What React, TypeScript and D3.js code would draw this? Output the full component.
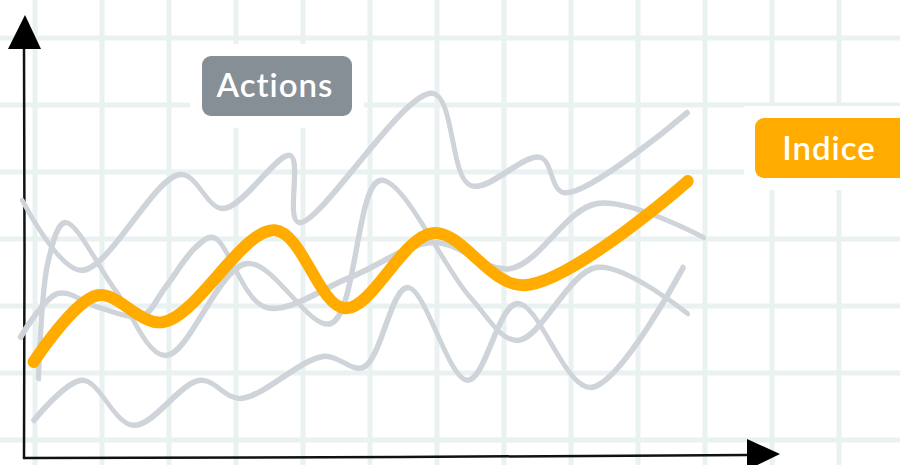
import React from "react";
import * as d3 from "d3";

// Data values (x: time 0..100, y: value 0..100)
const topSeries: [number, number][] = [
  [0.3, 61.4], [8.6, 44.8], [22.9, 67.6], [28.9, 59.5], [38.6, 72.1], [39.7, 56.2],
  [59.0, 86.9], [64.3, 65.0], [74.3, 71.7], [77.6, 63.3], [95.3, 82.4],
];
const secondSeries: [number, number][] = [
  [2.6, 19.0], [4.0, 47.1], [6.4, 56.2], [13.6, 40.0], [20.7, 24.5], [32.4, 46.4],
  [44.3, 32.1], [51.4, 66.2], [64.3, 38.3], [71.0, 28.1], [82.4, 45.5], [95.3, 34.5],
];
const thirdSeries: [number, number][] = [
  [0, 28.8], [5.4, 39.3], [11.1, 36.0], [17.4, 34.0], [20.7, 40.7], [25.0, 50.2],
  [27.6, 52.6], [35.0, 36.0], [47.1, 43.1], [59.0, 51.4], [70.0, 45.2], [82.4, 60.7], [97.6, 52.6],
];
const bottomSeries: [number, number][] = [
  [1.9, 9.0], [8.9, 18.6], [16.1, 7.9], [25.7, 18.6], [31.4, 14.3], [43.3, 24.3],
  [49.0, 21.7], [55.3, 40.7], [63.9, 18.6], [71.0, 36.9], [81.4, 16.9], [94.7, 45.5],
];
const indexSeries: [number, number][] = [
  [1.9, 22.9], [11.0, 38.8], [20.4, 32.4], [36.4, 54.3], [46.4, 35.7], [59.0, 53.6],
  [71.9, 41.2], [95.4, 66.0],
];
const stockSeries = [topSeries, secondSeries, thirdSeries, bottomSeries];
const labelStocks = "Actions";
const labelIndex = "Indice";

const W = 900;
const H = 465;
const GRID = 67;
const GRID_X0 = 35;
const GRID_Y0 = 38;
const GRAY = "#ced4da";
const ORANGE = "#ffab00";
const GRID_COLOR = "#eaf2f1";

export default function App() {
  const x = d3.scaleLinear().domain([0, 100]).range([20, 720]);
  const y = d3.scaleLinear().domain([0, 100]).range([458, 38]);
  const line = d3
    .line<[number, number]>()
    .x((d) => x(d[0]))
    .y((d) => y(d[1]))
    .curve(d3.curveCatmullRom.alpha(0.5));

  const vLines = d3.range(GRID_X0, W, GRID);
  const hLines = d3.range(GRID_Y0, H, GRID);

  return (
    <div style={{ position: "absolute", left: 0, top: 0, width: W, height: H, background: "#fff" }}>
      <svg width={W} height={H} style={{ display: "block" }}>
        <rect width={W} height={H} fill="#fff" />
        <g stroke={GRID_COLOR} strokeWidth={5}>
          {vLines.map((vx) => (
            <line key={"v" + vx} x1={vx} x2={vx} y1={0} y2={H} />
          ))}
          {hLines.map((hy) => (
            <line key={"h" + hy} x1={0} x2={W} y1={hy} y2={hy} />
          ))}
        </g>
        {/* white padding behind labels */}
        <rect x={190} y={44} width={174} height={84} fill="#fff" />
        <rect x={744} y={106} width={170} height={84} fill="#fff" />

        {/* axes */}
        <g stroke="#111" strokeWidth={2.5} fill="none" strokeLinecap="round">
          <path d="M24,46 L24.5,250 L24,458" />
          <path d="M24,458 L400,457 L748,455" />
        </g>
        <path d="M25,15 L8,49 L41,49 Z" fill="#000" />
        <path d="M780,454 L747,439 L747,470 Z" fill="#000" />

        {/* stock lines */}
        <g fill="none" stroke={GRAY} strokeLinecap="round" strokeLinejoin="round">
          {stockSeries.map((s, i) => (
            <g key={i}>
              <path d={line(s) || ""} strokeWidth={4.6} />
              <path d={line(s) || ""} strokeWidth={4} transform="translate(0.9,1.2)" />
            </g>
          ))}
        </g>
        {/* index line */}
        <g fill="none" stroke={ORANGE} strokeLinecap="round" strokeLinejoin="round">
          <path d={line(indexSeries) || ""} strokeWidth={11.5} />
          <path d={line(indexSeries) || ""} strokeWidth={10} transform="translate(0.6,1.2)" />
        </g>

        {/* labels */}
        <rect x={202} y={56} width={150} height={60} rx={9} fill="#868e96" />
        <text
          x={275}
          y={97}
          textAnchor="middle"
          fill="#fff"
          fontFamily="Lato, 'Noto Sans', sans-serif"
          fontSize={33}
          fontWeight={600}
          letterSpacing={1}
        >
          {labelStocks}
        </text>
        <rect x={755} y={118} width={160} height={60} rx={9} fill={ORANGE} />
        <text
          x={829}
          y={160}
          textAnchor="middle"
          fill="#fff"
          fontFamily="Lato, 'Noto Sans', sans-serif"
          fontSize={33}
          fontWeight={600}
          letterSpacing={1}
        >
          {labelIndex}
        </text>
      </svg>
    </div>
  );
}
